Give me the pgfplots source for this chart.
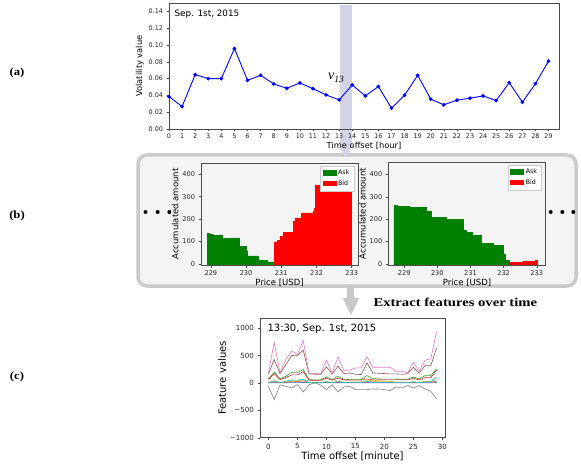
\documentclass[border=0pt]{standalone}
\usepackage{fontspec}
\setmainfont{DejaVu Sans}
\newfontfamily\serifb{Liberation Serif}
\usepackage{graphicx}
\usepackage{pgfplots}
\pgfplotsset{compat=1.18}
\definecolor{lav}{RGB}{212,212,232}
\definecolor{boxgray}{RGB}{202,202,202}
\definecolor{boxfill}{RGB}{244,244,244}
\definecolor{arrgray}{RGB}{200,200,200}
\definecolor{mplgreen}{RGB}{0,128,0}
\definecolor{tblue}{HTML}{1F77B4}
\definecolor{torange}{HTML}{FF7F0E}
\definecolor{tgreen}{HTML}{2CA02C}
\definecolor{tred}{HTML}{D62728}
\definecolor{tpurple}{HTML}{9467BD}
\definecolor{tbrown}{HTML}{8C564B}
\definecolor{tpink}{HTML}{E377C2}
\definecolor{tgray}{HTML}{7F7F7F}
\definecolor{tolive}{HTML}{BCBD22}
\definecolor{tcyan}{HTML}{17BECF}
\pgfplotsset{
  mpl/.style={scale only axis, anchor=south west,
    axis line style={black!70, line width=0.5pt},
    tick style={black!70, line width=0.4pt},
    tick align=outside, major tick length=2.5pt, tick pos=left,
    tick label style={text=black!85},
    /pgf/number format/assume math mode=true,
    clip=false},
  obleg/.style={legend style={at={(0.975,0.975)}, anchor=north east, font=\fontsize{6.3}{7}\selectfont, draw=black!20, inner xsep=2.5pt, inner ysep=2pt, row sep=0.5pt, cells={anchor=west}},
  legend image code/.code={\fill[##1] (0pt,-2pt) rectangle (13pt,2.5pt);}}
}
\begin{document}
\begin{tikzpicture}[x=1pt,y=1pt]
\useasboundingbox (0,0) rectangle (581,-468);
% middle box
\draw[boxgray, line width=3.5pt, fill=boxfill, rounded corners=9pt] (138,-155) rectangle (576,-286);
% panel labels
\node[font=\serifb\bfseries\fontsize{11}{12}\selectfont] at (17,-73) {\scalebox{1.15}[1]{(a)}};
\node[font=\serifb\bfseries\fontsize{11}{12}\selectfont] at (17,-216) {\scalebox{1.15}[1]{(b)}};
\node[font=\serifb\bfseries\fontsize{11}{12}\selectfont] at (17,-377) {\scalebox{1.15}[1]{(c)}};
% dots
\foreach \xx in {145.5,157.7,169.3,550.7,562.3,573.3} \fill (\xx,-212) circle (2pt);
% extract features text
\node[anchor=west, font=\serifb\bfseries\fontsize{12}{13}\selectfont] at (370,-302) {\scalebox{1.22}[1]{Extract features over time}};
% gray arrow
\fill[arrgray] (347.3,-286) rectangle (354.3,-298);
\fill[arrgray] (342.7,-298) -- (359.3,-298) -- (351,-315) -- cycle;
% lavender arrow (behind the top plot)
\fill[lav] (340,-5) rectangle (351.7,-145);
\fill[lav] (338.5,-145) -- (353.2,-145) -- (345.8,-157) -- cycle;

% (a) top
\begin{axis}[mpl, at={(169pt,-129pt)}, width=390pt, height=126pt,
  xmin=0, xmax=29.8, ymin=0, ymax=0.15,
  xtick={0,...,29}, ytick={0,0.02,0.04,0.06,0.08,0.10,0.12,0.14},
  yticklabel style={/pgf/number format/.cd, fixed, fixed zerofill, precision=2},
  tick label style={font=\fontsize{6.4}{7}\selectfont},
  xticklabel style={yshift=1pt},
  label style={font=\fontsize{8.3}{9}\selectfont},
  xlabel={Time offset [hour]}, ylabel={Volatility value},
  xlabel style={yshift=4pt}, ylabel style={yshift=-2pt}]
\addplot[blue, line width=0.9pt, mark=*, mark size=1.4pt] coordinates {
(0,0.0386)(1,0.0268)(2,0.0647)(3,0.0600)(4,0.0600)(5,0.0958)(6,0.0580)(7,0.0639)
(8,0.0536)(9,0.0485)(10,0.0548)(11,0.0480)(12,0.0406)(13,0.0347)(14,0.0524)
(15,0.0394)(16,0.0505)(17,0.0248)(18,0.0402)(19,0.0639)(20,0.0355)(21,0.0288)
(22,0.0343)(23,0.0367)(24,0.0394)(25,0.0339)(26,0.0552)(27,0.0319)(28,0.0540)(29,0.0808)};
\node[anchor=north west, font=\fontsize{8.8}{9}\selectfont] at (rel axis cs:0,1) [xshift=2pt,yshift=-3pt] {Sep. 1st, 2015};
\end{axis}
\node[anchor=base west, inner sep=0pt] at (328,-80) {\serifb\itshape\fontsize{14}{14}\selectfont v\raisebox{-2.5pt}{\fontsize{9.5}{10}\selectfont 13}};

% (b) left
\begin{axis}[mpl, obleg, at={(201pt,-265pt)}, width=157pt, height=102pt,
  xmin=228.72, xmax=233.18, ymin=-5, ymax=450,
  xtick={229,230,231,232,233}, ytick={0,100,200,300,400},
  tick label style={font=\fontsize{6.6}{7}\selectfont},
  label style={font=\fontsize{8.5}{9}\selectfont},
  xlabel={Price [USD]}, ylabel={Accumulated amount},
  xlabel style={yshift=4pt}, ylabel style={yshift=-3pt}]
\addplot[fill=mplgreen, draw=mplgreen, line width=0.6pt, const plot] coordinates {
(228.90,135)(228.95,131)(229.05,128)(229.15,127)(229.25,129)(229.33,114)(229.55,116)(229.82,77)
(230.01,56)(230.04,36)(230.35,18)(230.45,15)(230.61,9)(230.80,9)} \closedcycle;
\addplot[fill=red, draw=red, line width=0.6pt, const plot] coordinates {
(230.80,98)(230.88,105)(230.96,123)(231.06,139)(231.34,190)(231.40,205)(231.58,227)(231.90,235)
(231.94,249)(231.98,352)(232.2,346)(232.6,342)(233.0,342)} \closedcycle;
\legend{Ask,Bid}
\end{axis}

% (b) right
\begin{axis}[mpl, obleg, at={(388.3pt,-265pt)}, width=157.4pt, height=103pt,
  xmin=228.52, xmax=233.27, ymin=-5, ymax=455,
  xtick={229,230,231,232,233}, ytick={0,100,200,300,400},
  tick label style={font=\fontsize{6.6}{7}\selectfont},
  label style={font=\fontsize{8.5}{9}\selectfont},
  xlabel={Price [USD]}, ylabel={Accumulated amount},
  xlabel style={yshift=4pt}, ylabel style={yshift=-3pt}]
\addplot[fill=mplgreen, draw=mplgreen, line width=0.6pt, const plot] coordinates {
(228.69,261)(228.80,256)(228.95,258)(229.15,252)(229.68,234)(229.83,209)(230.28,197)
(230.78,148)(230.88,142)(231.04,127)(231.34,93)(231.69,83)(231.99,41)(232.04,15)(232.17,15)} \closedcycle;
\addplot[fill=red, draw=red, line width=0.6pt, const plot] coordinates {
(232.17,6)(232.40,8)(232.60,10)(232.80,11)(232.95,16)(233.03,16)} \closedcycle;
\legend{Ask,Bid}
\end{axis}

% (c) bottom
\begin{axis}[mpl, at={(260pt,-437.7pt)}, width=185pt, height=119.4pt,
  xmin=-1.45, xmax=30.45, ymin=-1000, ymax=1180,
  xtick={0,5,10,15,20,25,30}, ytick={-1000,-500,0,500,1000},
  yticklabels={−1000,−500,0,500,1000},
  tick label style={font=\fontsize{7.1}{8}\selectfont},
  label style={font=\fontsize{10}{11}\selectfont},
  xlabel={Time offset [minute]}, ylabel={Feature values},
  xlabel style={yshift=4pt}, ylabel style={yshift=-3pt},
  every axis plot/.append style={line width=0.6pt, mark=none}]
\addplot[tblue] coordinates {(0,2)(1,5)(2,2)(3,3)(4,6)(5,5)(6,8)(7,2)(8,2)(9,2)(10,4)(11,2)(12,4)(13,2)(14,2)(15,2)(16,2)(17,4)(18,2)(19,2)(20,2)(21,2)(22,2)(23,2)(24,2)(25,3)(26,2)(27,3)(28,3)(29,8)};
\addplot[torange] coordinates {(0,5)(1,25)(2,5)(3,10)(4,30)(5,25)(6,40)(7,5)(8,5)(9,5)(10,15)(11,5)(12,15)(13,8)(14,8)(15,10)(16,10)(17,25)(18,20)(19,20)(20,18)(21,15)(22,8)(23,8)(24,5)(25,12)(26,5)(27,15)(28,15)(29,20)};
\addplot[tpurple] coordinates {(0,5)(1,15)(2,5)(3,10)(4,15)(5,15)(6,20)(7,5)(8,5)(9,5)(10,10)(11,5)(12,10)(13,5)(14,5)(15,5)(16,5)(17,10)(18,8)(19,8)(20,8)(21,8)(22,5)(23,5)(24,5)(25,8)(26,5)(27,10)(28,10)(29,30)};
\addplot[tolive] coordinates {(0,10)(1,40)(2,10)(3,20)(4,40)(5,35)(6,60)(7,10)(8,10)(9,10)(10,25)(11,10)(12,30)(13,15)(14,15)(15,20)(16,20)(17,40)(18,40)(19,40)(20,35)(21,30)(22,15)(23,15)(24,10)(25,20)(26,10)(27,30)(28,30)(29,60)};
\addplot[tcyan] coordinates {(0,10)(1,25)(2,10)(3,30)(4,55)(5,50)(6,70)(7,5)(8,5)(9,5)(10,20)(11,5)(12,25)(13,10)(14,5)(15,5)(16,5)(17,30)(18,5)(19,5)(20,5)(21,5)(22,5)(23,5)(24,5)(25,20)(26,5)(27,15)(28,20)(29,110)};
\addplot[tgray] coordinates {(0,-61)(1,-305)(2,-37)(3,-61)(4,-92)(5,-31)(6,-165)(7,-31)(8,0)(9,-37)(10,-122)(11,-31)(12,-165)(13,-73)(14,-61)(15,-122)(16,-122)(17,-122)(18,-110)(19,-110)(20,-122)(21,-140)(22,-73)(23,-92)(24,-49)(25,-92)(26,-49)(27,-110)(28,-152)(29,-293)};
\addplot[tgreen] coordinates {(0,73)(1,195)(2,73)(3,122)(4,195)(5,195)(6,244)(7,61)(8,55)(9,55)(10,110)(11,61)(12,122)(13,67)(14,61)(15,61)(16,61)(17,134)(18,80)(19,72)(20,70)(21,70)(22,68)(23,68)(24,66)(25,110)(26,73)(27,134)(28,134)(29,256)};
\addplot[tred] coordinates {(0,61)(1,171)(2,61)(3,98)(4,146)(5,146)(6,207)(7,49)(8,49)(9,49)(10,85)(11,49)(12,85)(13,55)(14,52)(15,52)(16,52)(17,73)(18,55)(19,55)(20,55)(21,55)(22,55)(23,55)(24,55)(25,85)(26,55)(27,98)(28,98)(29,232)};
\addplot[tbrown] coordinates {(0,160)(1,427)(2,170)(3,335)(4,500)(5,506)(6,598)(7,165)(8,159)(9,159)(10,293)(11,165)(12,305)(13,171)(14,183)(15,159)(16,153)(17,366)(18,183)(19,177)(20,171)(21,165)(22,165)(23,159)(24,165)(25,287)(26,177)(27,317)(28,317)(29,640)};
\addplot[tpink] coordinates {(0,183)(1,744)(2,183)(3,427)(4,580)(5,518)(6,775)(7,183)(8,171)(9,165)(10,415)(11,183)(12,476)(13,232)(14,232)(15,275)(16,275)(17,476)(18,287)(19,287)(20,287)(21,287)(22,214)(23,214)(24,183)(25,378)(26,214)(27,415)(28,440)(29,940)};
\node[anchor=north west, font=\fontsize{10}{11}\selectfont] at (rel axis cs:0,1) [xshift=4pt,yshift=-2pt] {13:30, Sep. 1st, 2015};
\end{axis}
\end{tikzpicture}
\end{document}
